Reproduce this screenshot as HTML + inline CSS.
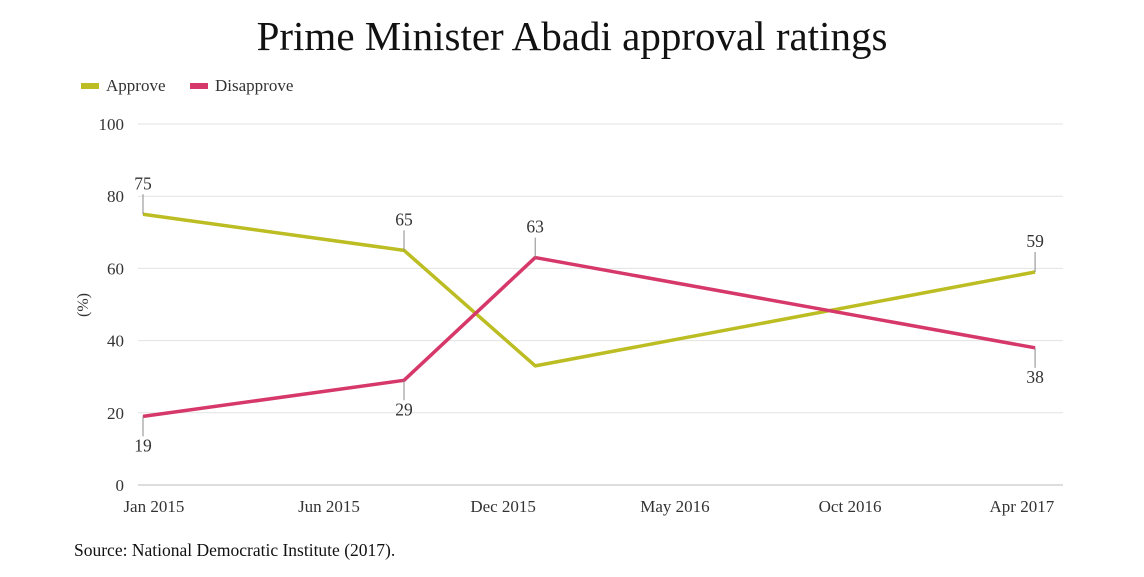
<!DOCTYPE html>
<html><head><meta charset="utf-8"><style>
body{margin:0;background:#fff;font-family:"Liberation Serif",serif;}
svg text{font-family:"Liberation Serif",serif;fill:#333;}
</style></head><body>
<svg width="1144" height="572">
<text x="572" y="50" text-anchor="middle" font-size="41" style="fill:#111">Prime Minister Abadi approval ratings</text>
<g>
<rect x="81" y="83" width="18" height="6" fill="#bcbd22"/>
<text x="106" y="91" font-size="17">Approve</text>
<rect x="190" y="83" width="18" height="6" fill="#d6386a"/>
<text x="215" y="91" font-size="17">Disapprove</text>
</g>
<g id="grid"></g><g id="xt"></g><g id="lines"></g><g id="labels"></g>
<text transform="translate(88,305) rotate(-90)" text-anchor="middle" font-size="16">(%)</text>
<text x="74" y="556" font-size="17.5" style="fill:#111">Source: National Democratic Institute (2017).</text>
</svg>
<script>
const months=[0,7.9,11.87,27];
const approve=[75,65,33,59];
const disapprove=[19,29,63,38];
const yTicks=[0,20,40,60,80,100];
const xTickLabels=["Jan 2015","Jun 2015","Dec 2015","May 2016","Oct 2016","Apr 2017"];
const xTickMonths=[0.33,5.63,10.9,16.1,21.4,26.6];
const approveLabelShown=[true,true,false,true];
const ns="http://www.w3.org/2000/svg";
const X=m=>143+m*33.04, Y=v=>485-v*3.61;
function mk(p,t,a){const e=document.createElementNS(ns,t);for(const k in a)e.setAttribute(k,a[k]);p.appendChild(e);return e;}
const g=document.getElementById('grid');
yTicks.forEach(v=>{const l=mk(g,'line',{x1:138,x2:1063,y1:Y(v),y2:Y(v),stroke:v===0?'#bbb':'#e3e3e3'});


const t=mk(g,'text',{x:124,y:Y(v)+6,'text-anchor':'end','font-size':17});t.textContent=v;

});
const xt=document.getElementById('xt');
xTickLabels.forEach((s,i)=>{const t=mk(xt,'text',{x:X(xTickMonths[i]),y:512,'text-anchor':'middle','font-size':17});t.textContent=s;

});
const L=document.getElementById('lines'),lb=document.getElementById('labels');
function series(vals,col,name,above,show){
const p=mk(L,'polyline',{points:vals.map((v,i)=>X(months[i])+','+Y(v)).join(' '),fill:'none',stroke:col,'stroke-width':3.5,'stroke-linejoin':'round'});


vals.forEach((v,i)=>{if(!show[i])return;const up=above[i];const x=X(months[i]),y=Y(v);
const ln=mk(lb,'line',{x1:x,x2:x,y1:y,y2:up?y-20:y+20,stroke:'#888','stroke-width':1});


const t=mk(lb,'text',{x:x,y:up?y-25:y+35,'text-anchor':'middle','font-size':17.5});t.textContent=v;

});}
series(approve,'#bcbd22','approve',[true,true,true,true],approveLabelShown);
series(disapprove,'#d6386a','disapprove',[false,false,true,false],[true,true,true,true]);
</script>
</body></html>
